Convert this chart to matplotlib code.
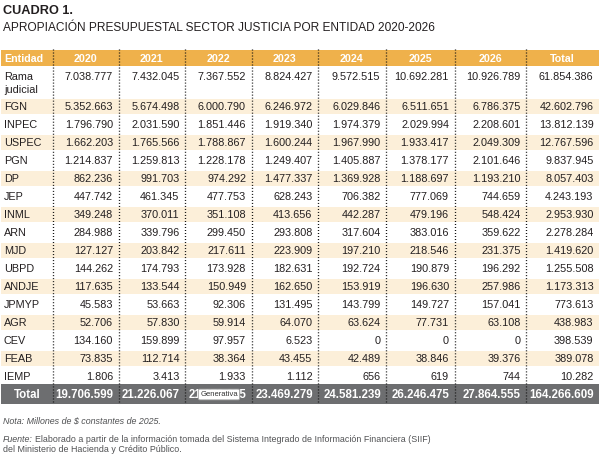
import matplotlib
matplotlib.use('Agg')
import matplotlib.pyplot as plt
from matplotlib.patches import Rectangle

plt.rcParams['font.family'] = ['Liberation Sans', 'DejaVu Sans']

# Datos (millones de $ constantes de 2025)
entidades = ['Rama\njudicial', 'FGN', 'INPEC', 'USPEC', 'PGN', 'DP', 'JEP', 'INML', 'ARN',
             'MJD', 'UBPD', 'ANDJE', 'JPMYP', 'AGR', 'CEV', 'FEAB', 'IEMP']
anios = ['2020', '2021', '2022', '2023', '2024', '2025', '2026']

v2020 = [7038777, 5352663, 1796790, 1662203, 1214837, 862236, 447742, 349248, 284988,
         127127, 144262, 117635, 45583, 52706, 134160, 73835, 1806]
v2021 = [7432045, 5674498, 2031590, 1765566, 1259813, 991703, 461345, 370011, 339796,
         203842, 174793, 133544, 53663, 57830, 159899, 112714, 3413]
v2022 = [7367552, 6000790, 1851446, 1788867, 1228178, 974292, 477753, 351108, 299450,
         217611, 173928, 150949, 92306, 59914, 97957, 38364, 1933]
v2023 = [8824427, 6246972, 1919340, 1600244, 1249407, 1477337, 628243, 413656, 293808,
         223909, 182631, 162650, 131495, 64070, 6523, 43455, 1112]
v2024 = [9572515, 6029846, 1974379, 1967990, 1405887, 1369928, 706382, 442287, 317604,
         197210, 192724, 153919, 143799, 63624, 0, 42489, 656]
v2025 = [10692281, 6511651, 2029994, 1933417, 1378177, 1188697, 777069, 479196, 383016,
         218546, 190879, 196630, 149727, 77731, 0, 38846, 619]
v2026 = [10926789, 6786375, 2208601, 2049309, 2101646, 1193210, 744659, 548424, 359622,
         231375, 196292, 257986, 157041, 63108, 0, 39376, 744]
total_entidad = [61854386, 42602796, 13812139, 12767596, 9837945, 8057403, 4243193, 2953930,
                 2278284, 1419620, 1255508, 1173313, 773613, 438983, 398539, 389078, 10282]
total_anio = [19706599, 21226067, 21172395, 23469279, 24581239, 26246475, 27864555]
total_general = 164266609

columnas = [v2020, v2021, v2022, v2023, v2024, v2025, v2026, total_entidad]

naranja = '#efb14b'
crema = '#fcefd9'
gris = '#6d6e70'
texto = '#231f20'
nota_color = '#505153'


def fmt(v):
    return f'{v:,}'.replace(',', '.')


fig = plt.figure(figsize=(6.01, 4.59), dpi=100)
ax = fig.add_axes([0, 0, 1, 1])
ax.set_xlim(0, 601)
ax.set_ylim(459, 0)
ax.axis('off')

# bordes de columnas (pixeles)
bordes = [1, 52.5, 118.5, 185, 251.5, 318, 386, 454.5, 526, 599]
ancho = bordes[-1] - bordes[0]

# titulo
ax.text(3, 9.5, 'CUADRO 1.', fontsize=9.2, fontweight='bold', color=texto,
        ha='left', va='center_baseline')
ax.text(3, 26.5, 'APROPIACIÓN PRESUPUESTAL SECTOR JUSTICIA POR ENTIDAD 2020-2026',
        fontsize=8.6, color=texto, ha='left', va='center_baseline')

# encabezado
ax.add_patch(Rectangle((bordes[0], 49.5), ancho, 16.5, color=naranja, lw=0))
y_enc = 58
ax.text(4, y_enc, 'Entidad', fontsize=7.7, fontweight='bold', color='white',
        ha='left', va='center_baseline')
for j, lab in enumerate(anios + ['Total']):
    xc = (bordes[j + 1] + bordes[j + 2]) / 2
    ax.text(xc, y_enc, lab, fontsize=7.7, fontweight='bold', color='white',
            ha='center', va='center_baseline')

# filas
for i, ent in enumerate(entidades):
    yc = 75.7 if i == 0 else 106.3 + (i - 1) * 18.0
    if i % 2 == 1:
        ax.add_patch(Rectangle((bordes[0], yc - 7.8), ancho, 15.6, color=crema, lw=0))
    for k, parte in enumerate(ent.split('\n')):
        ax.text(4, yc + k * 13.3, parte, fontsize=7.8, color=texto,
                ha='left', va='center_baseline')
    for j, col in enumerate(columnas):
        ax.text(bordes[j + 2] - 5.5, yc, fmt(col[i]), fontsize=7.8, color=texto,
                ha='right', va='center_baseline')

# fila total
ax.add_patch(Rectangle((bordes[0], 384), ancho, 20, color=gris, lw=0))
y_tot = 394
ax.text((bordes[0] + bordes[1]) / 2, y_tot, 'Total', fontsize=8.3, fontweight='bold',
        color='white', ha='center', va='center_baseline')
for j, v in enumerate(total_anio + [total_general]):
    ax.text(bordes[j + 2] - 5, y_tot, fmt(v), fontsize=8.3, fontweight='bold',
            color='white', ha='right', va='center_baseline')

# separadores punteados: ~1 px de punto, ~2 px de hueco
for x in bordes[1:-1]:
    ax.plot([x, x], [49, 404], color='#111111', lw=0.95, linestyle=(0, (0.76, 1.52)),
            dash_capstyle='butt', zorder=3)

# marca "Generativa"
ax.text(219, 394.5, 'Generativa', fontsize=5.5, color='#333333', ha='center',
        va='center', zorder=5,
        bbox=dict(boxstyle='round,pad=0.25,rounding_size=0.2', fc='white',
                  ec='#9a9a9a', lw=0.6))

# notas
ax.text(3, 420, 'Nota: Millones de $ constantes de 2025.', fontsize=6.4,
        style='italic', color=nota_color, ha='left', va='center_baseline')
t = ax.text(3, 439, 'Fuente:', fontsize=6.4, style='italic', color=nota_color,
            ha='left', va='center_baseline')
fig.canvas.draw()
bb = t.get_window_extent()
x_fin = ax.transData.inverted().transform((bb.x1, bb.y0))[0]
ax.text(x_fin + 2.5, 439,
        'Elaborado a partir de la información tomada del Sistema Integrado de '
        'Información Financiera (SIIF)',
        fontsize=6.4, color=nota_color, ha='left', va='center_baseline')
ax.text(3, 448, 'del Ministerio de Hacienda y Crédito Público.', fontsize=6.4,
        color=nota_color, ha='left', va='center_baseline')

fig.savefig('out.png', dpi=100)
plt.close(fig)
